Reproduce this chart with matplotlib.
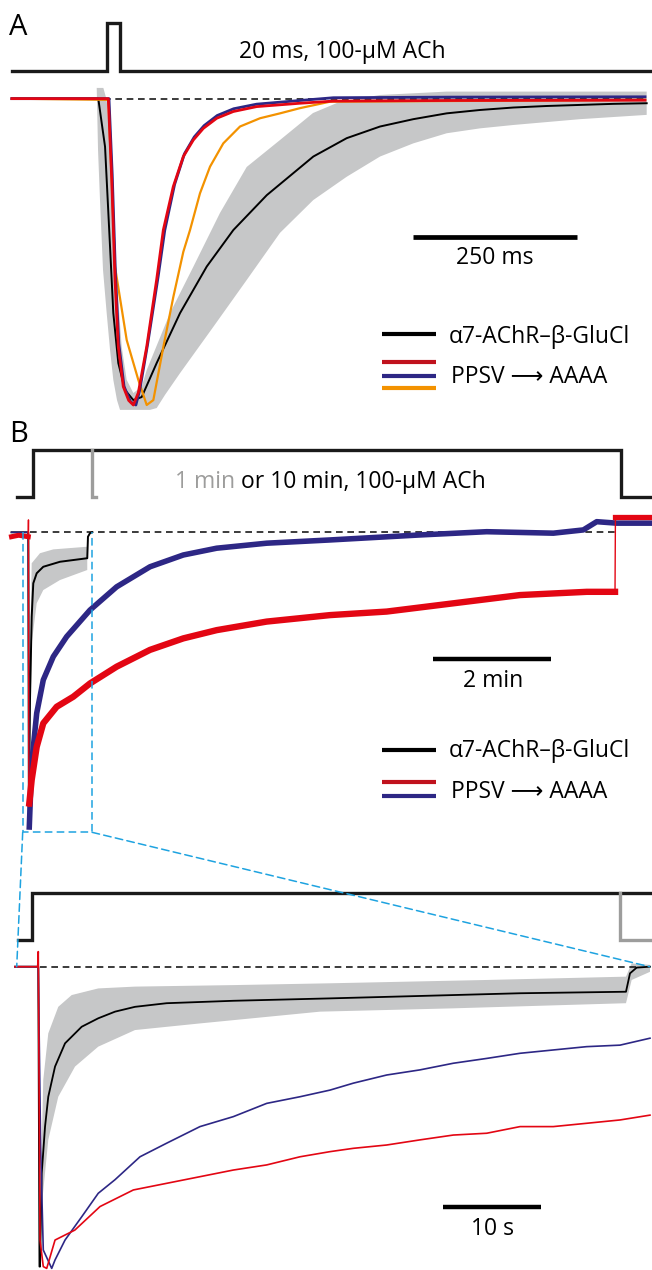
import matplotlib
matplotlib.use("Agg")
import matplotlib.pyplot as plt
from matplotlib.lines import Line2D
from matplotlib.patches import ConnectionPatch

plt.rcParams['font.family'] = ['Open Sans', 'DejaVu Sans']

# ---------------- data (current normalised to the peak, baseline = 0) ----------------
# panel A, time in ms
a_stim_t = [-145, 0, 0, 20, 20, 830]
a_stim_lvl = [0.09, 0.09, 0.247, 0.247, 0.09, 0.09]

a_black_t = [-145, -13.3, -3.0, 4.6, 9.6, 17.2, 27.4, 40.1, 52.9, 75.7, 111.3, 152, 192.5,
             243.5, 314.4, 365.3, 416.1, 466.8, 517.7, 568.5, 619.2, 670, 771.6, 822.5]
a_black_i = [0, 0, -0.157, -0.483, -0.70, -0.863, -0.951, -0.984, -0.974, -0.863, -0.70, -0.548,
             -0.429, -0.315, -0.189, -0.129, -0.091, -0.067, -0.048, -0.037, -0.029, -0.024,
             -0.017, -0.015]

a_sem_t = [-15.7, -13.7, -10.7, -6.1, -0.5, 4.6, 9.6, 15.2, 19.8, 65.5, 75.7, 88.4, 111.3, 162.0,
           212.9, 263.7, 314.4, 365.3, 416.1, 466.8, 517.7, 568.5, 619.2, 720.9, 822.5, 822.5,
           517.7, 416.1, 355.1, 313.9, 263.7, 212.9, 172.2, 131.5, 96.0, 60.5, 52.9, 40.1, 30.0,
           22.4, 14.8, 9.6, 4.6, -0.5, -5.6]
a_sem_i = [0.035, -0.167, -0.331, -0.559, -0.700, -0.820, -0.918, -0.984, -1.016, -1.016, -1.010,
           -0.967, -0.896, -0.745, -0.592, -0.438, -0.331, -0.255, -0.189, -0.146, -0.113, -0.097,
           -0.086, -0.067, -0.053, 0.023, 0.023, 0.012, -0.010, -0.047, -0.135, -0.223, -0.373,
           -0.549, -0.700, -0.886, -0.940, -0.961, -0.918, -0.810, -0.592, -0.373, -0.157,
           -0.004, 0.035]

a_red_t = [-145, 2.0, 7.2, 12.2, 17.2, 24.8, 33, 40.1, 47.7, 60.5, 75.7, 85.8, 101.0, 116.3,
           131.5, 146.8, 167.2, 192.5, 228.1, 294.1, 345, 523, 820]
a_red_i = [0, 0, -0.265, -0.592, -0.81, -0.94, -0.985, -1.0, -0.96, -0.81, -0.59, -0.429, -0.287,
           -0.189, -0.135, -0.097, -0.064, -0.042, -0.026, -0.015, -0.008, -0.006, -0.005]

a_blue_t = [-145, 3, 8, 13, 18, 26, 36, 44, 50, 62, 78, 88, 103, 118, 133, 148, 168, 193, 228,
            294, 345, 523, 820]
a_blue_i = [0, 0, -0.25, -0.58, -0.80, -0.94, -0.99, -1.0, -0.95, -0.80, -0.58, -0.43, -0.28,
            -0.18, -0.125, -0.088, -0.055, -0.033, -0.018, -0.006, 0.003, 0.005, 0.006]

a_orange_t = [-145, 2.0, 7.6, 12.2, 30.0, 47.7, 60.5, 70.6, 85.9, 101.1, 116.3, 126.5, 141.7,
              157.0, 177.2, 202.7, 233.2, 263.7, 294.1, 339.8, 820]
a_orange_i = [0, -0.004, -0.29, -0.549, -0.788, -0.918, -1.0, -0.984, -0.810, -0.647, -0.50,
              -0.429, -0.309, -0.222, -0.146, -0.091, -0.064, -0.048, -0.031, -0.010, -0.004]

# panel B, time in min
b_stim_t = [-0.28, 0, 0, 10.0, 10.0, 10.52]
b_stim_lvl = [0.121, 0.121, 0.279, 0.279, 0.121, 0.121]
b_stim1_t = [1.0, 1.0, 1.06]
b_stim1_lvl = [0.279, 0.121, 0.121]

b_black_t = [-0.37, -0.085, -0.075, -0.056, -0.027, 0.0, 0.058, 0.170, 0.454, 0.918, 0.93, 0.964, 1.0]
b_black_i = [0, 0, -0.95, -0.57, -0.286, -0.173, -0.139, -0.117, -0.100, -0.088, -0.015, -0.003, 0.0]

b_sem_t = [-0.075, -0.045, -0.027, 0.114, 0.340, 0.918, 0.918, 0.454, 0.170, 0.058, -0.027, -0.045]
b_sem_i = [-0.95, -0.30, -0.105, -0.071, -0.058, -0.049, -0.128, -0.162, -0.196, -0.241, -0.377, -0.60]

b_red_t = [-0.37, -0.25, -0.085, -0.082, -0.075, -0.068, -0.027, 0.058, 0.170, 0.398, 0.680, 0.964,
           1.418, 1.985, 2.551, 3.119, 3.969, 5.046, 6.010, 7.143, 8.277, 9.412, 9.893, 9.90, 10.49]
b_red_i = [-0.015, -0.01, -0.015, 0.042, -0.93, -0.92, -0.840, -0.728, -0.648, -0.592, -0.558,
           -0.513, -0.456, -0.399, -0.360, -0.332, -0.303, -0.281, -0.269, -0.241, -0.213, -0.202,
           -0.202, 0.053, 0.053]

b_blue_t = [-0.37, -0.085, -0.078, -0.068, -0.027, 0.058, 0.170, 0.340, 0.568, 0.964, 1.418, 1.985,
            2.551, 3.119, 3.969, 5.046, 6.578, 7.711, 8.844, 9.354, 9.582, 9.922, 10.49]
b_blue_i = [0, 0, -0.5, -1.0, -0.784, -0.614, -0.501, -0.422, -0.354, -0.264, -0.185, -0.117,
            -0.077, -0.054, -0.037, -0.026, -0.009, 0.002, -0.003, 0.008, 0.036, 0.031, 0.031]

# panel B zoom (first minute), time in s
c_stim_t = [-1.43, 0, 0, 63.2]
c_stim_lvl = [0.0885, 0.0885, 0.2433, 0.2433]
c_stim1_t = [60, 60, 63.2]
c_stim1_lvl = [0.2433, 0.0885, 0.0885]

c_black_t = [-1.77, 0.61, 0.73, 0.79, 0.96, 1.30, 1.63, 2.32, 3.34, 5.04, 6.73, 8.44, 10.48,
             13.71, 20.51, 30.38, 39.56, 49.77, 60.58, 60.99, 61.67, 63.03]
c_black_i = [0, 0, -0.994, -0.994, -0.685, -0.530, -0.431, -0.331, -0.254, -0.199, -0.171, -0.149,
             -0.133, -0.121, -0.113, -0.105, -0.097, -0.088, -0.083, -0.022, -0.003, 0.0]

c_sem_t = [0.79, 0.96, 1.12, 1.63, 2.65, 4.02, 6.73, 10.48, 20.51, 30.38, 46.37, 60.58, 61.16,
           63.03, 63.03, 61.16, 60.58, 42.96, 29.36, 17.11, 10.48, 6.73, 4.36, 2.65, 1.63, 0.96]
c_sem_i = [-0.994, -0.60, -0.375, -0.221, -0.133, -0.094, -0.072, -0.066, -0.061, -0.055, -0.044,
           -0.033, 0.011, 0.006, -0.017, -0.044, -0.121, -0.138, -0.149, -0.188, -0.210, -0.265,
           -0.331, -0.431, -0.574, -0.795]

c_blue_t = [-1.77, 0.61, 0.85, 1.12, 1.98, 2.32, 3.34, 5.04, 6.73, 8.44, 10.99, 13.71, 17.11,
            20.51, 23.92, 27.32, 30.38, 32.76, 36.16, 39.56, 42.96, 46.37, 49.77, 53.16, 56.57,
            59.97, 63.03]
c_blue_i = [0, 0, -0.60, -0.939, -1.0, -0.972, -0.906, -0.829, -0.751, -0.706, -0.630, -0.585,
            -0.530, -0.497, -0.453, -0.431, -0.409, -0.386, -0.359, -0.342, -0.320, -0.304,
            -0.287, -0.276, -0.265, -0.260, -0.237]

c_red_t = [-1.77, 0.55, 0.61, 0.79, 1.12, 1.47, 2.32, 4.34, 6.91, 10.31, 13.71, 17.11, 20.51,
           23.92, 27.32, 30.38, 32.76, 36.16, 39.56, 42.96, 46.37, 49.77, 53.16, 56.57, 59.97, 63.03]
c_red_i = [0, 0, 0.050, -0.906, -0.994, -1.0, -0.906, -0.873, -0.795, -0.740, -0.718, -0.696,
           -0.674, -0.657, -0.630, -0.613, -0.602, -0.591, -0.574, -0.558, -0.552, -0.530,
           -0.530, -0.519, -0.508, -0.492]

# ---------------- style ----------------
RED = '#e30613'
LEG_RED = '#c0121d'
BLUE = '#2d2785'
ORANGE = '#f39200'
BAND = '#c6c7c8'
CYAN = '#1ea3e0'
STIM_GRAY = '#9d9d9c'
FS = 16.5
W, H = 652, 1270

fig = plt.figure(figsize=(W / 100, H / 100), dpi=100)


def px_axes(top, bottom):
    return fig.add_axes([0, 1 - bottom / H, 1, (bottom - top) / H])


axA = px_axes(0, 420)
axA.set_xlim(-163.1, 830.6)
axA.set_ylim(-1.049, 0.322)
axB = px_axes(420, 850)
axB.set_xlim(-0.566, 10.522)
axB.set_ylim(-1.078, 0.381)
axC = px_axes(850, 1270)
axC.set_xlim(-3.296, 63.235)
axC.set_ylim(-1.0053, 0.3868)
for ax in (axA, axB, axC):
    ax.axis('off')

dash = (0, (4, 2.8))

# ---- panel A ----
axA.plot(a_stim_t, a_stim_lvl, color='#1a1a1a', lw=2.4, solid_joinstyle='miter')
axA.fill(a_sem_t, a_sem_i, color=BAND, lw=0, zorder=1)
axA.plot([-5, 822], [0, 0], color='#1a1a1a', lw=1.2, ls=dash, zorder=2)
axA.plot(a_black_t, a_black_i, color='black', lw=1.4, zorder=3)
axA.plot(a_orange_t, a_orange_i, color=ORANGE, lw=1.6, zorder=4)
axA.plot(a_blue_t, a_blue_i, color=BLUE, lw=2.0, zorder=5)
axA.plot(a_red_t, a_red_i, color=RED, lw=2.0, zorder=6)
axA.plot([466, 716], [-0.451, -0.451], color='black', lw=3.4, solid_capstyle='butt')
axA.text(591, -0.541, '250 ms', fontsize=FS, ha='center', va='baseline')
axA.text(359, 0.132, '20 ms, 100-\u03bcM ACh', fontsize=FS, ha='center', va='baseline')

# ---- panel B ----
axB.plot(b_stim_t, b_stim_lvl, color='#1a1a1a', lw=2.4, solid_joinstyle='miter')
axB.plot(b_stim1_t, b_stim1_lvl, color=STIM_GRAY, lw=2.4, solid_joinstyle='miter')
axB.fill(b_sem_t, b_sem_i, color=BAND, lw=0, zorder=1)
axB.plot([-0.06, 9.93], [0, 0], color='#1a1a1a', lw=1.2, ls=dash, zorder=2)
axB.plot(b_black_t, b_black_i, color='black', lw=1.4, zorder=3)
axB.plot(b_blue_t, b_blue_i, color=BLUE, lw=1.0, zorder=4)
axB.plot(b_blue_t[3:], b_blue_i[3:], color=BLUE, lw=4.0, zorder=4)
axB.plot(b_red_t, b_red_i, color=RED, lw=1.0, zorder=5)
axB.plot(b_red_t[:3], b_red_i[:3], color=RED, lw=3.6, zorder=5)
axB.plot(b_red_t[5:23], b_red_i[5:23], color=RED, lw=4.6, zorder=5)
axB.plot(b_red_t[23:], b_red_i[23:], color=RED, lw=3.8, zorder=5)
axB.plot([6.8, 8.8], [-0.431, -0.431], color='black', lw=3.2, solid_capstyle='butt')
axB.text(7.82, -0.524, '2 min', fontsize=FS, ha='center', va='baseline')
t1 = axB.text(2.41, 0.149, '1 min', fontsize=FS, color=STIM_GRAY, ha='left', va='baseline')
axB.annotate(' or 10 min, 100-\u03bcM ACh', xy=(1, 0), xycoords=t1, fontsize=FS,
             ha='left', va='bottom')
# zoom box
axB.plot([-0.18, -0.18, 1.0, 1.0], [0, -1.018, -1.018, 0], color=CYAN, lw=1.1,
         ls=(0, (5, 2.8)), zorder=6)

# ---- panel B, first minute ----
axC.plot(c_stim_t, c_stim_lvl, color='#1a1a1a', lw=2.4, solid_joinstyle='miter')
axC.plot(c_stim1_t, c_stim1_lvl, color=STIM_GRAY, lw=2.4, solid_joinstyle='miter')
axC.fill(c_sem_t, c_sem_i, color=BAND, lw=0, zorder=1)
axC.plot([0.8, 62.0], [0, 0], color='#1a1a1a', lw=1.2, ls=dash, zorder=2)
axC.plot(c_black_t, c_black_i, color='black', lw=1.3, zorder=3)
axC.plot(c_blue_t, c_blue_i, color=BLUE, lw=1.2, zorder=4, clip_on=False)
axC.plot(c_red_t, c_red_i, color=RED, lw=1.2, zorder=5, clip_on=False)
axC.plot([41.9, 51.9], [-0.795, -0.795], color='black', lw=3.2, solid_capstyle='butt')
axC.text(47.0, -0.889, '10 s', fontsize=FS, ha='center', va='baseline')

for xa, xc in ((-0.18, -1.59), (1.0, 63.0)):
    con = ConnectionPatch(xyA=(xa, -1.018), coordsA=axB.transData,
                          xyB=(xc, 0.0), coordsB=axC.transData,
                          color=CYAN, lw=1.1, ls=(0, (5, 2.8)), zorder=6)
    fig.add_artist(con)

# ---- legends and panel letters ----
def fx(px):
    return px / W


def fy(py):
    return 1 - py / H


for py, c in ((334.3, 'black'), (361.7, LEG_RED), (375.7, BLUE), (388.3, ORANGE),
              (750, 'black'), (781.7, LEG_RED), (795.7, BLUE)):
    fig.add_artist(Line2D([fx(382), fx(436)], [fy(py), fy(py)], color=c, lw=3.0,
                          solid_capstyle='butt'))

for py1, py2 in ((343, 383), (756.7, 798.3)):
    fig.text(fx(449), fy(py1), '\u03b17-AChR\u2013\u03b2-GluCl', fontsize=FS, va='baseline')
    fig.text(fx(451), fy(py2), 'PPSV \u27f6 AAAA', fontsize=FS, va='baseline')

fig.text(fx(9), fy(35), 'A', fontsize=21, va='baseline')
fig.text(fx(9), fy(442), 'B', fontsize=21, va='baseline')

fig.savefig('out.png', dpi=100)
